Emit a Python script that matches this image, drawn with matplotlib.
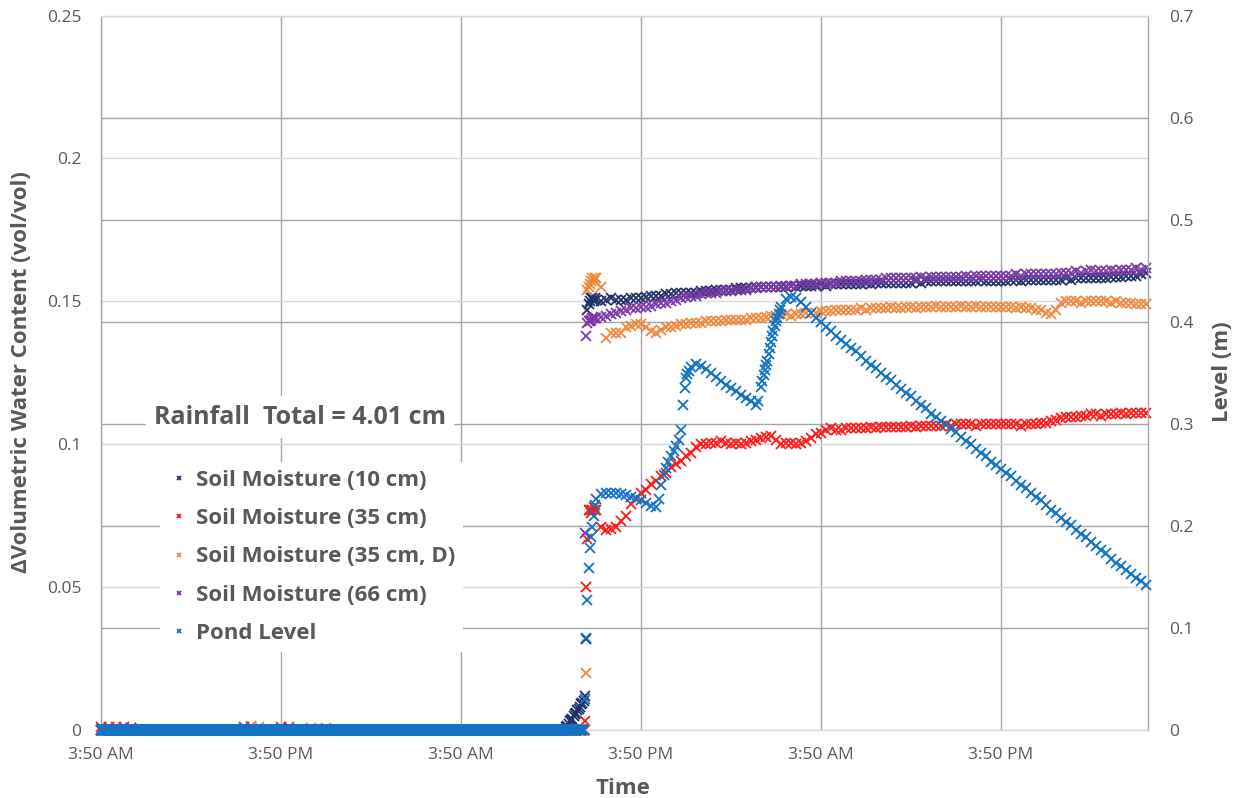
import numpy as np
import matplotlib
matplotlib.use("Agg")
import matplotlib.pyplot as plt
from matplotlib.transforms import blended_transform_factory

plt.rcParams['font.family'] = ['Open Sans', 'DejaVu Sans']

# ---------------------------------------------------------------- time axis
# hours elapsed since the first 3:50 AM record
tick_hours = [0, 12, 24, 36, 48, 60]
tick_labels = ["3:50 AM", "3:50 PM", "3:50 AM", "3:50 PM", "3:50 AM", "3:50 PM"]

hours_pre_soil = np.arange(62) * 0.5          # half-hourly before the storm
hours_pre_pond = np.arange(1860) / 60.0       # 1-minute pond logger before the storm
hours_event = 31.0 + np.arange(24) / 12.0     # 5-minute records during onset
hours_post = 33.0 + np.arange(111) / 3.0      # 20-minute records afterwards

left_ticks = [0, 0.05, 0.1, 0.15, 0.2, 0.25]
left_tick_labels = ["0", "0.05", "0.1", "0.15", "0.2", "0.25"]
right_ticks = [0, 0.1, 0.2, 0.3, 0.4, 0.5, 0.6, 0.7]
right_tick_labels = ["0", "0.1", "0.2", "0.3", "0.4", "0.5", "0.6", "0.7"]

# ---------------------------------------------------------------- soil moisture, 10 cm
sm10_pre = [0, 0, 0, 0, 0.0006, 0, 0, 0, 0, 0, 0, 0, 0, 0, 0, 0,
            0, 0, 0, 0, 0, 0, 0, 0, 0, 0, 0, 0, 0, 0, 0, 0,
            0, 0, 0, 0, 0, 0, 0, 0, 0, 0, 0, 0, 0, 0, 0, 0,
            0, 0, 0, 0, 0, 0, 0, 0, 0, 0, 0, 0, 0, 0]
sm10_event = [0.001, 0.0015, 0.002, 0.003, 0.0035, 0.004, 0.005, 0.0055,
              0.006, 0.007, 0.0075, 0.008, 0.009, 0.0095, 0.010, 0.012,
              0.032, 0.147, 0.149, 0.150, 0.151, 0.151, 0.150, 0.151]
sm10_post = [0.1505, 0.150, 0.1505, 0.151, 0.1505, 0.1505, 0.1505, 0.151, 0.151, 0.151,
             0.1515, 0.152, 0.152, 0.152, 0.1525, 0.1525, 0.153, 0.153, 0.153, 0.153,
             0.153, 0.1535, 0.1535, 0.1535, 0.154, 0.154, 0.154, 0.154, 0.1545, 0.1545,
             0.1545, 0.1545, 0.155, 0.155, 0.155, 0.155, 0.155, 0.155, 0.155, 0.1555,
             0.155, 0.1555, 0.1555, 0.1555, 0.1555, 0.156, 0.1555, 0.156, 0.156, 0.156,
             0.156, 0.156, 0.156, 0.156, 0.1565, 0.156, 0.1565, 0.1565, 0.1565, 0.1565,
             0.1565, 0.1565, 0.1565, 0.1565, 0.157, 0.1565, 0.157, 0.157, 0.157, 0.157,
             0.157, 0.157, 0.157, 0.157, 0.157, 0.157, 0.157, 0.1575, 0.157, 0.157,
             0.157, 0.157, 0.157, 0.1575, 0.1575, 0.157, 0.1575, 0.1575, 0.1575, 0.1575,
             0.1575, 0.1575, 0.1575, 0.1575, 0.158, 0.1575, 0.158, 0.158, 0.158, 0.158,
             0.158, 0.158, 0.158, 0.1585, 0.1585, 0.1585, 0.159, 0.159, 0.159, 0.1595,
             0.160]

# ---------------------------------------------------------------- soil moisture, 35 cm
sm35_pre = [0.001, 0.001, 0.001, 0.001, 0, 0, 0, 0, 0, 0, 0, 0, 0, 0, 0, 0,
            0, 0, 0, 0, 0.0012, 0, 0, 0, 0.001, 0.001, 0, 0, 0, 0, 0, 0,
            0, 0, 0, 0, 0, 0, 0, 0, 0, 0, 0, 0, 0, 0, 0, 0,
            0, 0, 0, 0, 0, 0, 0, 0, 0, 0, 0, 0, 0, 0]
sm35_event = [0, 0, 0, 0, 0, 0, 0, 0, 0, 0, 0, 0, 0, 0, 0, 0.003,
              0.050, 0.067, 0.077, 0.077, 0.076, 0.077, 0.078, 0.077]
sm35_post = [0.077, 0.071, 0.070, 0.0705, 0.071, 0.073, 0.075, 0.079, 0.081, 0.083,
             0.084, 0.086, 0.087, 0.089, 0.090, 0.092, 0.093, 0.094, 0.096, 0.097,
             0.099, 0.100, 0.100, 0.1005, 0.1005, 0.101, 0.1005, 0.100, 0.1005, 0.100,
             0.1005, 0.101, 0.1015, 0.102, 0.1025, 0.103, 0.1015, 0.100, 0.1005, 0.1005,
             0.100, 0.1005, 0.101, 0.102, 0.1035, 0.104, 0.105, 0.1055, 0.105, 0.105,
             0.1055, 0.1055, 0.1055, 0.1055, 0.1055, 0.106, 0.1055, 0.106, 0.106, 0.106,
             0.106, 0.106, 0.106, 0.1065, 0.106, 0.1065, 0.1065, 0.1065, 0.1065, 0.1065,
             0.107, 0.1065, 0.107, 0.107, 0.107, 0.107, 0.1065, 0.107, 0.107, 0.107,
             0.107, 0.107, 0.107, 0.107, 0.107, 0.1065, 0.107, 0.107, 0.107, 0.1075,
             0.1075, 0.108, 0.1085, 0.109, 0.1095, 0.1095, 0.1095, 0.110, 0.110, 0.1105,
             0.1105, 0.110, 0.1105, 0.1105, 0.1105, 0.111, 0.1105, 0.111, 0.111, 0.111,
             0.111]

# ---------------------------------------------------------------- soil moisture, 35 cm (D)
sm35d_pre = [0, 0, 0, 0, 0, 0, 0, 0, 0, 0, 0, 0, 0, 0, 0, 0,
             0, 0, 0, 0, 0.0015, 0.001, 0, 0, 0, 0, 0, 0, 0.0008, 0, 0.0008, 0,
             0, 0, 0, 0, 0, 0, 0, 0, 0, 0, 0, 0, 0, 0, 0, 0,
             0, 0, 0, 0, 0, 0, 0, 0, 0, 0, 0, 0, 0, 0]
sm35d_event = [0, 0, 0, 0, 0, 0, 0, 0, 0, 0, 0, 0, 0, 0, 0, 0,
               0.020, 0.154, 0.155, 0.156, 0.157, 0.158, 0.157, 0.158]
sm35d_post = [0.158, 0.155, 0.137, 0.139, 0.139, 0.139, 0.141, 0.1415, 0.142, 0.142,
              0.141, 0.1395, 0.139, 0.140, 0.141, 0.141, 0.1415, 0.142, 0.142, 0.1425,
              0.1425, 0.1425, 0.143, 0.143, 0.143, 0.143, 0.1435, 0.1435, 0.1435, 0.1435,
              0.1435, 0.144, 0.144, 0.144, 0.1445, 0.145, 0.145, 0.1455, 0.1455, 0.145,
              0.1455, 0.1455, 0.146, 0.146, 0.146, 0.1465, 0.1465, 0.1465, 0.147, 0.147,
              0.147, 0.147, 0.147, 0.1475, 0.147, 0.1475, 0.1475, 0.1475, 0.1475, 0.148,
              0.1475, 0.1475, 0.148, 0.148, 0.1475, 0.148, 0.148, 0.148, 0.1485, 0.148,
              0.148, 0.148, 0.148, 0.1485, 0.148, 0.148, 0.1485, 0.148, 0.148, 0.148,
              0.148, 0.148, 0.148, 0.148, 0.1475, 0.148, 0.1475, 0.1475, 0.147, 0.147,
              0.146, 0.1455, 0.147, 0.1495, 0.150, 0.150, 0.150, 0.1495, 0.150, 0.150,
              0.150, 0.150, 0.150, 0.1495, 0.150, 0.1495, 0.1495, 0.1495, 0.149, 0.149,
              0.149]

# ---------------------------------------------------------------- soil moisture, 66 cm
sm66_pre = [0, 0, 0, 0, 0.0006, 0, 0, 0, 0, 0, 0, 0, 0, 0, 0, 0,
            0, 0, 0, 0.001, 0, 0, 0, 0, 0, 0, 0, 0, 0, 0, 0, 0,
            0, 0, 0, 0, 0, 0, 0, 0, 0, 0, 0, 0, 0, 0, 0, 0,
            0, 0, 0, 0, 0, 0, 0, 0, 0, 0, 0, 0, 0, 0]
sm66_event = [0, 0, 0, 0, 0, 0, 0, 0, 0, 0, 0, 0, 0, 0, 0, 0.069,
              0.138, 0.1425, 0.143, 0.143, 0.1435, 0.144, 0.144, 0.144]
sm66_post = [0.144, 0.1445, 0.145, 0.1455, 0.146, 0.1465, 0.147, 0.1475, 0.1475, 0.148,
             0.148, 0.1485, 0.149, 0.1495, 0.1495, 0.150, 0.1505, 0.151, 0.1515, 0.152,
             0.152, 0.1525, 0.153, 0.153, 0.153, 0.1535, 0.1535, 0.1535, 0.154, 0.154,
             0.154, 0.1545, 0.1545, 0.155, 0.155, 0.155, 0.155, 0.1555, 0.1555, 0.1555,
             0.1555, 0.156, 0.156, 0.156, 0.156, 0.1565, 0.1565, 0.1565, 0.1565, 0.157,
             0.157, 0.157, 0.157, 0.157, 0.1575, 0.1575, 0.1575, 0.1575, 0.158, 0.158,
             0.158, 0.158, 0.158, 0.158, 0.158, 0.1585, 0.158, 0.1585, 0.1585, 0.1585,
             0.1585, 0.1585, 0.1585, 0.1585, 0.159, 0.1585, 0.159, 0.159, 0.159, 0.159,
             0.159, 0.159, 0.159, 0.159, 0.1595, 0.159, 0.1595, 0.1595, 0.1595, 0.1595,
             0.1595, 0.1595, 0.1595, 0.160, 0.160, 0.160, 0.1605, 0.160, 0.1605, 0.161,
             0.1605, 0.1605, 0.1605, 0.161, 0.1605, 0.161, 0.161, 0.161, 0.1615, 0.161,
             0.1615]

# ---------------------------------------------------------------- pond level (m)
pond_pre = [0.0] * 1860
pond_event = [0, 0, 0, 0, 0, 0, 0, 0, 0, 0, 0, 0, 0, 0, 0, 0.030,
              0.090, 0.127, 0.159, 0.178, 0.189, 0.199, 0.210, 0.220]
pond_post = [0.226, 0.231, 0.232, 0.232, 0.232, 0.231, 0.230, 0.228, 0.227, 0.225,
             0.222, 0.219, 0.218, 0.240, 0.257, 0.268, 0.278, 0.294, 0.345, 0.356,
             0.359, 0.357, 0.354, 0.350, 0.346, 0.342, 0.338, 0.335, 0.332, 0.328,
             0.325, 0.322, 0.318, 0.336, 0.358, 0.380, 0.401, 0.414, 0.422, 0.424,
             0.423, 0.419, 0.414, 0.409, 0.404, 0.400, 0.395, 0.391, 0.386, 0.382,
             0.378, 0.374, 0.371, 0.366, 0.362, 0.358, 0.355, 0.350, 0.346, 0.343,
             0.338, 0.334, 0.330, 0.327, 0.322, 0.318, 0.315, 0.310, 0.307, 0.303,
             0.299, 0.295, 0.292, 0.287, 0.283, 0.280, 0.275, 0.271, 0.268, 0.263,
             0.260, 0.256, 0.252, 0.249, 0.244, 0.240, 0.237, 0.232, 0.228, 0.225,
             0.220, 0.216, 0.213, 0.208, 0.204, 0.201, 0.196, 0.192, 0.189, 0.184,
             0.180, 0.176, 0.173, 0.168, 0.164, 0.161, 0.157, 0.153, 0.149, 0.146,
             0.142]
# additional 5-minute pond records on the two rising limbs
pond_rise_hours = [37.1667, 37.5, 37.8333, 38.1667, 38.5, 38.8333, 38.9167, 39.0833, 39.1667,
                   43.8333, 44.0833, 44.1667, 44.25, 44.4167, 44.5, 44.5833, 44.75,
                   44.8333, 44.9167, 45.0833, 45.1667, 45.25]
pond_rise_values = [0.226, 0.250, 0.263, 0.273, 0.284, 0.318, 0.335, 0.349, 0.352,
                    0.322, 0.342, 0.348, 0.353, 0.362, 0.368, 0.374, 0.386,
                    0.391, 0.396, 0.404, 0.408, 0.411]

soil_hours = np.concatenate([hours_pre_soil, hours_event, hours_post])
pond_hours = np.concatenate([hours_pre_pond, hours_event, hours_post, pond_rise_hours])

soil_series = [
    ("Soil Moisture (10 cm)", sm10_pre + sm10_event + sm10_post, "#1f3269"),
    ("Soil Moisture (35 cm)", sm35_pre + sm35_event + sm35_post, "#ff1a1a"),
    ("Soil Moisture (35 cm, D)", sm35d_pre + sm35d_event + sm35d_post, "#f0883e"),
    ("Soil Moisture (66 cm)", sm66_pre + sm66_event + sm66_post, "#7a3aa8"),
]
pond_label = "Pond Level"
pond_values = pond_pre + pond_event + pond_post + pond_rise_values
pond_color = "#1272c4"

# ---------------------------------------------------------------- figure
W, H = 1238, 798
fig = plt.figure(figsize=(W / 100, H / 100), dpi=100)
ax1 = fig.add_axes([101 / W, 1 - 730 / H, 1047 / W, 714.5 / H])
ax2 = ax1.twinx()

text_col = "#595959"
light_grid = "#d9d9d9"
dark_grid = "#a6a6a6"

ax1.set_xlim(0, 69.8)
ax1.set_ylim(0, 0.25)
ax2.set_ylim(0, 0.7)

ax1.set_xticks(tick_hours)
ax1.set_xticklabels(tick_labels)
ax1.set_yticks(left_ticks)
ax1.set_yticklabels(left_tick_labels)
ax2.set_yticks(right_ticks)
ax2.set_yticklabels(right_tick_labels)

ax1.set_axisbelow(True)
ax1.yaxis.grid(True, color=light_grid, lw=1.0)
ax1.xaxis.grid(True, color=dark_grid, lw=1.0)
# level-axis gridlines, kept beneath every series
lvl_tr = blended_transform_factory(ax1.transAxes, ax2.transData)
for lv in right_ticks[1:-1]:
    ax1.plot([0, 1], [lv, lv], transform=lvl_tr, color=dark_grid, lw=1.0, zorder=0.6)

for side, col in (("left", dark_grid), ("right", dark_grid),
                  ("top", light_grid), ("bottom", light_grid)):
    ax1.spines[side].set_color(col)
    ax1.spines[side].set_linewidth(1.0)
for side in ax2.spines:
    ax2.spines[side].set_visible(False)

ax1.tick_params(axis="x", length=0, pad=12, labelsize=12.5, labelcolor=text_col)
ax1.tick_params(axis="y", length=0, pad=14, labelsize=12.5, labelcolor=text_col)
ax2.tick_params(axis="y", length=0, pad=15, labelsize=12.5, labelcolor=text_col)

mk = dict(linestyle="none", marker="x", ms=6.5, mew=1.3, clip_on=False)
handles = []
for name, vals, col in soil_series:
    (h,) = ax1.plot(soil_hours, vals, color=col, label=name, zorder=2, **mk)
    handles.append(h)
order = np.argsort(pond_hours, kind="stable")
(hp,) = ax2.plot(pond_hours[order], np.asarray(pond_values)[order], color=pond_color,
                 label=pond_label, zorder=2, **mk)
handles.append(hp)

fig.text(22 / W, 1 - 372 / H, "\u0394Volumetric Water Content (vol/vol)", rotation=90,
         ha="center", va="center", fontsize=16, fontweight="bold", color=text_col)
fig.text(1222 / W, 1 - 372 / H, "Level (m)", rotation=90,
         ha="center", va="center", fontsize=16, fontweight="bold", color=text_col)
fig.text(623 / W, 1 - 788 / H, "Time", ha="center", va="center",
         fontsize=16, fontweight="bold", color=text_col)

ax2.text(300 / W, 1 - 417 / H, "Rainfall  Total = 4.01 cm", transform=fig.transFigure,
         ha="center", va="center", fontsize=18, fontweight="bold", color=text_col,
         bbox=dict(facecolor="white", edgecolor="none", pad=6), zorder=5)

leg = ax2.legend(handles=handles, loc="upper left", bbox_to_anchor=(160 / W, 1 - 462 / H),
                 bbox_transform=fig.transFigure, borderaxespad=0, borderpad=0.35,
                 handlelength=1.0, handletextpad=0.25, labelspacing=0.78, markerscale=0.55,
                 frameon=True, fancybox=False, framealpha=1.0, facecolor="white",
                 edgecolor="none", prop={"size": 16, "weight": "bold"})
for t in leg.get_texts():
    t.set_color(text_col)
leg.set_zorder(6)

fig.savefig("out.png", dpi=100)
